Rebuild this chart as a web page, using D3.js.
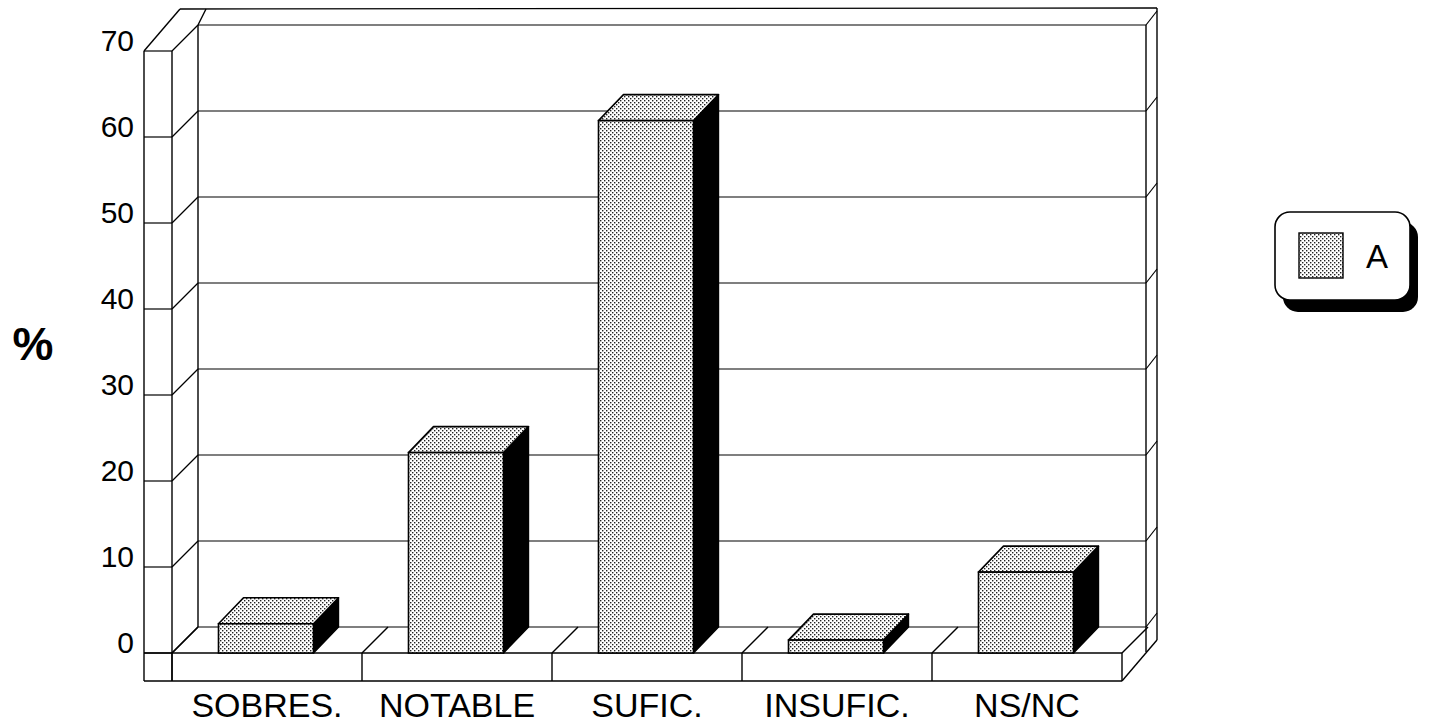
<!DOCTYPE html>
<html><head><meta charset="utf-8">
<script src="https://cdn.jsdelivr.net/npm/d3@7"></script>
<style>
html,body{margin:0;padding:0;background:#fff;}
svg{display:block;}
text{font-family:"Liberation Sans",Arial,Helvetica,sans-serif;fill:#000;}
</style></head>
<body>
<svg id="chart" width="1431" height="727"></svg>
<script>
const categories = ["SOBRES.", "NOTABLE", "SUFIC.", "INSUFIC.", "NS/NC"];
const values = [3.4, 23.3, 61.9, 1.5, 9.4];
const yTicks = [0, 10, 20, 30, 40, 50, 60, 70];
const seriesName = "A";
const axisTitle = "%";

const svg = d3.select("#chart");
const defs = svg.append("defs");
const pat = defs.append("pattern").attr("id","dots").attr("patternUnits","userSpaceOnUse")
  .attr("width",4).attr("height",4);
pat.append("rect").attr("width",4).attr("height",4).attr("fill","#fff");
pat.append("rect").attr("x",0).attr("y",0).attr("width",1.4).attr("height",1.4).attr("fill","#222");
pat.append("rect").attr("x",2).attr("y",2).attr("width",1.4).attr("height",1.4).attr("fill","#222");

const y = d3.scaleLinear().domain([0,70]).range([653,51]);
const x = d3.scaleBand().domain(categories).range([172,1122]).paddingInner(0).paddingOuter(0);
const DX = 26, DY = -26;      // floor/wall depth
const BDX = 25, BDY = -26;    // bar depth
const wallL = 144, wallR = 172, backL = 198, backR = 1146, outerR = 1157;
const floorBottom = 681, topY = 9;

const g = svg.append("g").attr("fill","none").attr("stroke","#000");
function line(x1,y1,x2,y2,w){ g.append("line").attr("x1",x1).attr("y1",y1).attr("x2",x2).attr("y2",y2).attr("stroke-width",w||1.4); }

yTicks.forEach(t=>{
  const yf = y(t), yb = y(t)+DY;
  line(backL, yb, backR, yb, 1.2);
  line(wallL, yf, wallR, yf, 1.2);
  line(wallR, yf, backL, yb, 1.2);
  line(backR, yb, outerR, yb-14, 1.2);
});
line(wallL, y(70), wallL, floorBottom);
line(wallR, y(70), wallR, floorBottom);
line(backL, y(70)+DY, backL, y(0)+DY);
line(wallL, y(70), 180, topY);
line(backL, y(70)+DY, 206, topY);
line(180, topY, outerR, topY-1);
line(backR, y(70)+DY, backR, 652);
line(outerR, topY-1, outerR, 640);
line(wallL, y(0), x.range()[1], y(0));
line(wallL, floorBottom, x.range()[1], floorBottom);
const dividers = categories.map(c=>x(c)).concat([x.range()[1]]);
dividers.forEach(d=>{
  line(d, y(0), d, floorBottom);
  line(d, y(0), d+DX, y(0)+DY);
});
line(x.range()[1], floorBottom, outerR, 640);

const bw = x.bandwidth()/2;
const bars = svg.append("g");
categories.forEach((c,i)=>{
  const x0 = x(c) + x.bandwidth()/2 - bw/2 - 1, x1 = x0 + bw;
  const yv = y(values[i]), y0 = y(0);
  bars.append("path").attr("d", `M${x1},${yv}L${x1+BDX},${yv+BDY}L${x1+BDX},${y0+BDY}L${x1},${y0}Z`)
    .attr("fill","#000").attr("stroke","#000").attr("stroke-width",1.4).attr("stroke-linejoin","round");
  bars.append("path").attr("d", `M${x0},${yv}L${x0+BDX},${yv+BDY}L${x1+BDX},${yv+BDY}L${x1},${yv}Z`)
    .attr("fill","url(#dots)").attr("stroke","#000").attr("stroke-width",1.6).attr("stroke-linejoin","round");
  bars.append("rect").attr("x",x0).attr("y",yv).attr("width",bw).attr("height",y0-yv)
    .attr("fill","url(#dots)").attr("stroke","#000").attr("stroke-width",1.6);
});

svg.append("g").selectAll("text").data(yTicks).join("text")
  .attr("x",134).attr("y",d=>y(d)).attr("text-anchor","end")
  .style("font-size","30px").text(d=>d);

svg.append("g").selectAll("text").data(categories).join("text")
  .attr("x",d=>x(d)+x.bandwidth()/2).attr("y",717).attr("text-anchor","middle")
  .style("font-size","34px").text(d=>d);

svg.append("text").attr("x",33).attr("y",360).attr("text-anchor","middle")
  .style("font-size","46px").style("font-weight","bold")
  .text(axisTitle);

const lg = svg.append("g");
lg.append("rect").attr("x",1283).attr("y",222).attr("width",135).attr("height",90).attr("rx",15)
  .attr("fill","#000");
lg.append("rect").attr("x",1275).attr("y",212).attr("width",135).attr("height",88).attr("rx",15)
  .attr("fill","#fff").attr("stroke","#000").attr("stroke-width",1.6);
lg.append("rect").attr("x",1299).attr("y",233).attr("width",44).attr("height",45)
  .attr("fill","url(#dots)").attr("stroke","#000").attr("stroke-width",1.4);
lg.append("text").attr("x",1377).attr("y",268).attr("text-anchor","middle")
  .style("font-size","33px").text(seriesName);
</script>
</body></html>
